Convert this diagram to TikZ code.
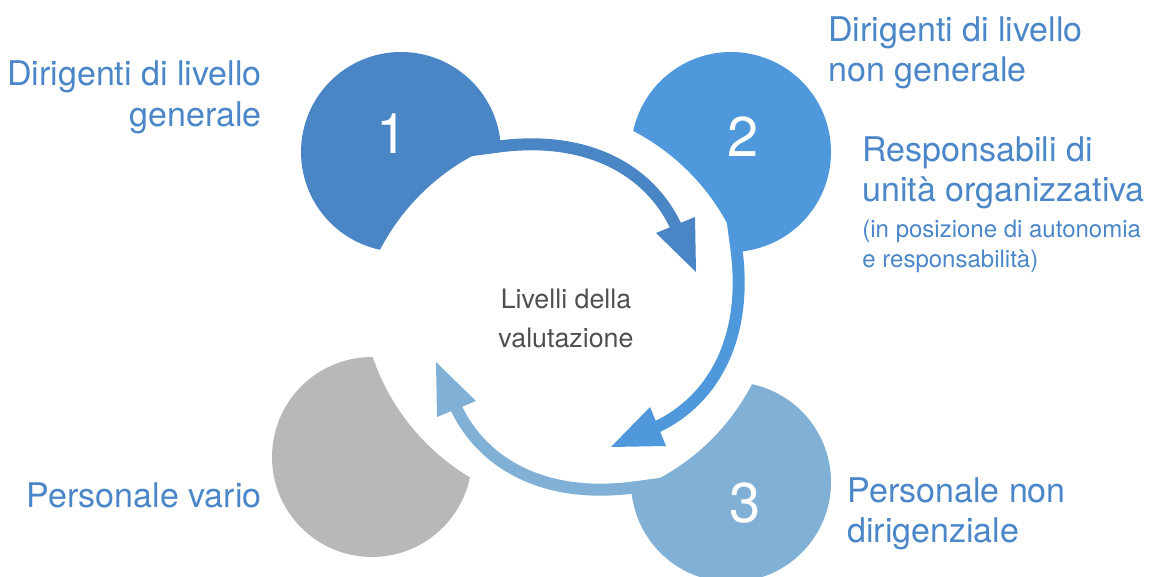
\documentclass[tikz,border=0pt]{standalone}
\usepackage{fontspec}
\setmainfont{TeX Gyre Heros}
\definecolor{cA}{HTML}{4A85C5}
\definecolor{cB}{HTML}{4F98DB}
\definecolor{cC}{HTML}{80B0D5}
\definecolor{cD}{HTML}{B8B8B8}
\definecolor{txt}{HTML}{4A86C8}
\definecolor{ctrtxt}{HTML}{505050}
\begin{document}
\begin{tikzpicture}[x=0.5pt,y=-0.5pt,
  disc/.style={circle, minimum size=100pt, inner sep=0pt, draw=none},
  num/.style={text=white, inner sep=0pt, font=\fontsize{28pt}{33pt}\selectfont},
  lab/.style={text=txt, inner sep=0pt, font=\fontsize{17pt}{20pt}\selectfont},
  small/.style={text=txt, inner sep=0pt, font=\fontsize{12pt}{15pt}\selectfont},
  mid/.style={text=ctrtxt, inner sep=0pt, anchor=base, font=\fontsize{13.4pt}{16pt}\selectfont},
  shaft/.style={line width=6pt, line cap=butt},
  bite/.style={fill=white}]
\useasboundingbox (0,0) rectangle (1150,577);
% coloured circles
\node[disc, fill=cA] (c1) at (401,152) {};
\node[disc, fill=cB] (c2) at (731,152) {};
\node[disc, fill=cC] (c3) at (731,482) {};
\node[disc, fill=cD] (c4) at (372,457) {};
% white bites (clip slightly larger than the circle so no edge remains)
\begin{scope}\clip (c1.center) circle[radius=51.5pt]; \fill[bite] (579,353) circle[radius=112pt];\end{scope}
\begin{scope}\clip (c2.center) circle[radius=51.5pt]; \fill[bite] (530,330) circle[radius=112pt];\end{scope}
\begin{scope}\clip (c3.center) circle[radius=51.5pt]; \fill[bite] (553,281) circle[radius=112pt];\end{scope}
\begin{scope}\clip (c4.center) circle[radius=51.5pt]; \fill[bite] (585,285) circle[radius=112pt];\end{scope}
% numbers
\node[num] (n1) at (392,134) {1};
\node[num] (n2) at (743,137) {2};
\node[num] (n3) at (745,503) {3};
% arrow 1
\coordinate (b1) at (450,153); \coordinate (s1) at (495,147); \coordinate (e1) at (678,231);
\coordinate (h1t) at (696,272); \coordinate (h1a) at (656,233); \coordinate (h1b) at (695,217);
\draw[shaft, draw=cA] (b1) -- (s1) .. controls (594,133) and (654.6,175.8) .. (e1);
\fill[cA] (h1t) -- (h1a) -- (h1b) -- cycle;
% arrow 2
\coordinate (b2) at (730,201); \coordinate (s2) at (736,246); \coordinate (e2) at (652,429);
\coordinate (h2t) at (611,447); \coordinate (h2a) at (650,407); \coordinate (h2b) at (666,446);
\draw[shaft, draw=cB] (b2) -- (s2) .. controls (750,345) and (707.2,405.6) .. (e2);
\fill[cB] (h2t) -- (h2a) -- (h2b) -- cycle;
% arrow 3
\coordinate (b3) at (682,481); \coordinate (s3) at (637,487); \coordinate (e3) at (454,403);
\coordinate (h3t) at (436,362); \coordinate (h3a) at (476,401); \coordinate (h3b) at (437,417);
\draw[shaft, draw=cC] (b3) -- (s3) .. controls (538,501) and (477.4,458.2) .. (e3);
\fill[cC] (h3t) -- (h3a) -- (h3b) -- cycle;
% centre text
\node[mid] (m1) at (566,308) {Livelli della};
\node[mid] (m2) at (566,347) {valutazione};
% labels
\node[lab, anchor=base east] (l1a) at (262,86) {Dirigenti di livello};
\node[lab, anchor=base east] (l1b) at (262,127) {generale};
\node[lab, anchor=base west] (l2a) at (828,42) {Dirigenti di livello};
\node[lab, anchor=base west] (l2b) at (828,82) {non generale};
\node[lab, anchor=base west] (r1) at (862,162) {Responsabili di};
\node[lab, anchor=base west] (r2) at (862,202) {unità organizzativa};
\node[small, anchor=base west] (r3) at (862,238) {(in posizione di autonomia};
\node[small, anchor=base west] (r4) at (862,267) {e responsabilità)};
\node[lab, anchor=base west] (p3a) at (847,502) {Personale non};
\node[lab, anchor=base west] (p3b) at (847,542) {dirigenziale};
\node[lab, anchor=base east] (p4) at (262,507) {Personale vario};
\end{tikzpicture}
\end{document}
